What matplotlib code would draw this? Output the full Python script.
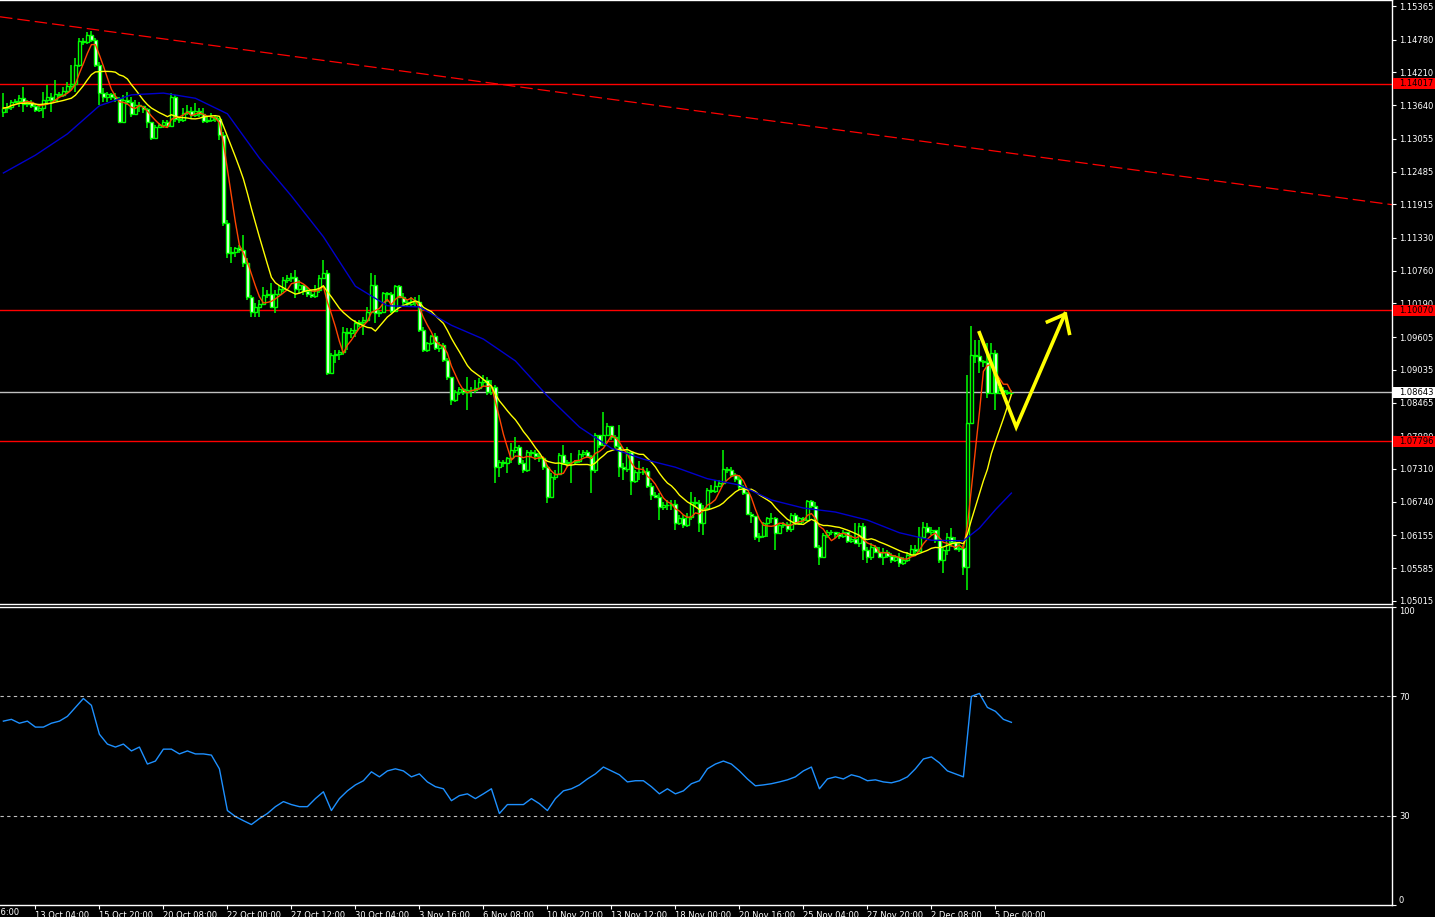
import numpy as np
import pandas as pd
import matplotlib
matplotlib.use("Agg")
import matplotlib.pyplot as plt
import matplotlib.transforms as mtransforms
from matplotlib.patches import Rectangle

# H4 bars, index 0 = leftmost visible bar; open = previous close
open0 = 1.1352
close = [
    1.1359, 1.1361, 1.1370, 1.1371, 1.1376, 1.1366, 1.1370, 1.1363, 1.1356, 1.1359,
    1.1373, 1.1378, 1.1373, 1.1383, 1.1382, 1.1389, 1.1397, 1.1401, 1.1434, 1.1476,
    1.1474, 1.1486, 1.1477, 1.1434, 1.1385, 1.1378, 1.1383, 1.1378, 1.1375, 1.1335,
    1.1373, 1.1370, 1.1349, 1.1364, 1.1363, 1.1357, 1.1335, 1.1307, 1.1326, 1.1330,
    1.1335, 1.1328, 1.1378, 1.1340, 1.1338, 1.1350, 1.1354, 1.1347, 1.1354, 1.1349,
    1.1336, 1.1338, 1.1343, 1.1340, 1.1312, 1.1159, 1.1107, 1.1109, 1.1115, 1.1112,
    1.1089, 1.1030, 1.1004, 1.1013, 1.1018, 1.1034, 1.1035, 1.1013, 1.1035, 1.1044,
    1.1060, 1.1063, 1.1065, 1.1044, 1.1051, 1.1041, 1.1035, 1.1032, 1.1042, 1.1063,
    1.1072, 1.0898, 1.0929, 1.0931, 1.0935, 1.0969, 1.0968, 1.0973, 1.0985, 1.0987,
    1.0990, 1.1004, 1.1051, 1.1002, 1.1004, 1.1037, 1.1035, 1.1006, 1.1049, 1.1030,
    1.1022, 1.1018, 1.1023, 1.1022, 1.0973, 1.0938, 1.0950, 1.0962, 1.0941, 1.0947,
    1.0921, 1.0891, 1.0851, 1.0865, 1.0870, 1.0865, 1.0868, 1.0868, 1.0872, 1.0882,
    1.0886, 1.0865, 1.0874, 1.0734, 1.0743, 1.0741, 1.0750, 1.0764, 1.0769, 1.0741,
    1.0729, 1.0761, 1.0759, 1.0754, 1.0750, 1.0734, 1.0682, 1.0717, 1.0722, 1.0755,
    1.0741, 1.0743, 1.0743, 1.0745, 1.0757, 1.0761, 1.0754, 1.0729, 1.0790, 1.0773,
    1.0790, 1.0806, 1.0787, 1.0771, 1.0734, 1.0731, 1.0761, 1.0710, 1.0726, 1.0726,
    1.0727, 1.0701, 1.0686, 1.0682, 1.0665, 1.0668, 1.0668, 1.0670, 1.0637, 1.0646,
    1.0634, 1.0647, 1.0674, 1.0672, 1.0637, 1.0663, 1.0694, 1.0693, 1.0701, 1.0707,
    1.0731, 1.0729, 1.0721, 1.0714, 1.0700, 1.0689, 1.0653, 1.0649, 1.0613, 1.0614,
    1.0637, 1.0646, 1.0646, 1.0620, 1.0634, 1.0635, 1.0627, 1.0651, 1.0637, 1.0646,
    1.0642, 1.0675, 1.0667, 1.0595, 1.0578, 1.0616, 1.0621, 1.0621, 1.0618, 1.0614,
    1.0621, 1.0606, 1.0609, 1.0602, 1.0632, 1.0590, 1.0578, 1.0595, 1.0587, 1.0578,
    1.0587, 1.0580, 1.0573, 1.0578, 1.0567, 1.0573, 1.0581, 1.0592, 1.0588, 1.0613,
    1.0630, 1.0621, 1.0625, 1.0607, 1.0573, 1.0590, 1.0613, 1.0604, 1.0592, 1.0593,
    1.0560, 1.0811, 1.0929, 1.0928, 1.0919, 1.0917, 1.0863, 1.0933, 1.0863, 1.0868,
    1.0865, 1.0863, 1.0864]
high = [
    1.1385, 1.1368, 1.1373, 1.1375, 1.1382, 1.1396, 1.1373, 1.1373, 1.1364, 1.1364,
    1.1387, 1.1399, 1.1385, 1.1408, 1.1387, 1.1396, 1.1404, 1.1434, 1.1446, 1.1481,
    1.1481, 1.1491, 1.1493, 1.1481, 1.1439, 1.1394, 1.1387, 1.1385, 1.1385, 1.1378,
    1.1382, 1.1387, 1.1378, 1.1373, 1.1370, 1.1361, 1.1359, 1.1335, 1.1330, 1.1333,
    1.1338, 1.1338, 1.1385, 1.1382, 1.1343, 1.1359, 1.1364, 1.1361, 1.1368, 1.1359,
    1.1359, 1.1343, 1.1350, 1.1347, 1.1342, 1.1317, 1.1164, 1.1117, 1.1117, 1.1121,
    1.1138, 1.1098, 1.1034, 1.1020, 1.1025, 1.1048, 1.1042, 1.1055, 1.1042, 1.1051,
    1.1065, 1.1068, 1.1072, 1.1077, 1.1060, 1.1051, 1.1048, 1.1042, 1.1051, 1.1068,
    1.1095, 1.1077, 1.0933, 1.0938, 1.0938, 1.0978, 1.0976, 1.0976, 1.0990, 1.0990,
    1.0995, 1.1013, 1.1072, 1.1068, 1.1008, 1.1039, 1.1039, 1.1039, 1.1051, 1.1051,
    1.1037, 1.1025, 1.1030, 1.1030, 1.1034, 1.0978, 1.0952, 1.0964, 1.0968, 1.0952,
    1.0950, 1.0924, 1.0891, 1.0868, 1.0874, 1.0872, 1.0891, 1.0874, 1.0886, 1.0889,
    1.0895, 1.0891, 1.0886, 1.0877, 1.0747, 1.0747, 1.0752, 1.0776, 1.0787, 1.0773,
    1.0747, 1.0764, 1.0764, 1.0764, 1.0759, 1.0750, 1.0738, 1.0724, 1.0729, 1.0759,
    1.0773, 1.0747, 1.0759, 1.0747, 1.0764, 1.0764, 1.0764, 1.0755, 1.0794, 1.0790,
    1.0830, 1.0811, 1.0799, 1.0790, 1.0808, 1.0741, 1.0769, 1.0743, 1.0729, 1.0745,
    1.0734, 1.0733, 1.0707, 1.0691, 1.0689, 1.0674, 1.0677, 1.0677, 1.0677, 1.0651,
    1.0651, 1.0654, 1.0691, 1.0682, 1.0677, 1.0668, 1.0698, 1.0703, 1.0712, 1.0712,
    1.0764, 1.0734, 1.0734, 1.0724, 1.0721, 1.0703, 1.0691, 1.0656, 1.0646, 1.0620,
    1.0639, 1.0647, 1.0654, 1.0647, 1.0637, 1.0639, 1.0639, 1.0654, 1.0654, 1.0647,
    1.0647, 1.0677, 1.0677, 1.0674, 1.0599, 1.0620, 1.0625, 1.0625, 1.0621, 1.0621,
    1.0625, 1.0621, 1.0616, 1.0637, 1.0637, 1.0637, 1.0595, 1.0602, 1.0599, 1.0595,
    1.0594, 1.0590, 1.0585, 1.0581, 1.0585, 1.0578, 1.0587, 1.0599, 1.0599, 1.0630,
    1.0639, 1.0637, 1.0630, 1.0625, 1.0630, 1.0594, 1.0620, 1.0628, 1.0613, 1.0602,
    1.0599, 1.0895, 1.0980, 1.0955, 1.0955, 1.0921, 1.0950, 1.0950, 1.0938, 1.0874,
    1.0874, 1.0868, 1.0868]
low = [
    1.1343, 1.1350, 1.1356, 1.1368, 1.1361, 1.1352, 1.1361, 1.1359, 1.1352, 1.1352,
    1.1342, 1.1364, 1.1352, 1.1376, 1.1376, 1.1378, 1.1385, 1.1390, 1.1387, 1.1430,
    1.1469, 1.1470, 1.1474, 1.1430, 1.1364, 1.1370, 1.1370, 1.1373, 1.1370, 1.1333,
    1.1333, 1.1364, 1.1343, 1.1347, 1.1352, 1.1350, 1.1324, 1.1303, 1.1307, 1.1326,
    1.1324, 1.1324, 1.1330, 1.1335, 1.1333, 1.1335, 1.1347, 1.1342, 1.1343, 1.1343,
    1.1333, 1.1333, 1.1335, 1.1335, 1.1303, 1.1154, 1.1098, 1.1089, 1.1100, 1.1107,
    1.1082, 1.1025, 1.0995, 1.0995, 1.0995, 1.1020, 1.1028, 1.1013, 1.1002, 1.1034,
    1.1039, 1.1055, 1.1056, 1.1028, 1.1037, 1.1034, 1.1030, 1.1028, 1.1028, 1.1037,
    1.1063, 1.0895, 1.0898, 1.0915, 1.0921, 1.0929, 1.0938, 1.0959, 1.0961, 1.0978,
    1.0964, 1.0987, 1.1002, 1.0985, 1.0995, 1.1028, 1.1022, 1.1002, 1.1030, 1.1028,
    1.1016, 1.1013, 1.1013, 1.1013, 1.0969, 1.0935, 1.0935, 1.0947, 1.0938, 1.0935,
    1.0917, 1.0886, 1.0842, 1.0848, 1.0860, 1.0860, 1.0834, 1.0856, 1.0863, 1.0868,
    1.0874, 1.0860, 1.0860, 1.0707, 1.0717, 1.0734, 1.0724, 1.0741, 1.0759, 1.0738,
    1.0724, 1.0726, 1.0752, 1.0747, 1.0743, 1.0729, 1.0672, 1.0682, 1.0712, 1.0721,
    1.0738, 1.0734, 1.0707, 1.0738, 1.0741, 1.0752, 1.0750, 1.0689, 1.0724, 1.0767,
    1.0781, 1.0790, 1.0781, 1.0767, 1.0717, 1.0712, 1.0726, 1.0686, 1.0707, 1.0712,
    1.0721, 1.0698, 1.0677, 1.0680, 1.0642, 1.0660, 1.0660, 1.0660, 1.0625, 1.0634,
    1.0628, 1.0630, 1.0642, 1.0665, 1.0621, 1.0616, 1.0660, 1.0689, 1.0689, 1.0700,
    1.0703, 1.0724, 1.0717, 1.0708, 1.0694, 1.0686, 1.0651, 1.0637, 1.0607, 1.0604,
    1.0611, 1.0613, 1.0637, 1.0590, 1.0620, 1.0628, 1.0621, 1.0621, 1.0634, 1.0634,
    1.0637, 1.0646, 1.0663, 1.0593, 1.0564, 1.0576, 1.0611, 1.0616, 1.0611, 1.0609,
    1.0611, 1.0602, 1.0602, 1.0602, 1.0595, 1.0573, 1.0567, 1.0573, 1.0585, 1.0576,
    1.0564, 1.0576, 1.0567, 1.0569, 1.0560, 1.0564, 1.0569, 1.0578, 1.0581, 1.0590,
    1.0616, 1.0620, 1.0616, 1.0602, 1.0567, 1.0550, 1.0581, 1.0595, 1.0590, 1.0587,
    1.0547, 1.0520, 1.0813, 1.0915, 1.0898, 1.0908, 1.0854, 1.0863, 1.0834, 1.0863,
    1.0860, 1.0860, 1.0860]

# slow moving average, read every 8 bars
slow_ma_bars = list(range(0, 241, 8)) + [244, 248, 252]
slow_ma = [1.1246, 1.1277, 1.1314, 1.1363, 1.1382, 1.1385, 1.1376, 1.1349, 1.1272, 1.1206,
           1.1135, 1.1049, 1.1015, 1.1013, 1.0981, 1.0957, 1.0919, 1.0858, 1.0804, 1.0767,
           1.0748, 1.0734, 1.0714, 1.0703, 1.0677, 1.0663, 1.0656, 1.0642, 1.0620, 1.0607,
           1.0606, 1.0628, 1.0660, 1.0689]

# RSI, read every 2 bars
rsi_vals = [61.7, 62.3, 61.0, 61.7, 59.7, 59.7, 61.0, 61.7, 63.3, 66.3,
            69.3, 67.0, 57.3, 54.0, 53.0, 54.0, 51.7, 53.0, 47.3, 48.3,
            52.3, 52.3, 50.7, 51.7, 50.7, 50.7, 50.3, 45.7, 31.7, 29.7,
            28.3, 27.0, 29.0, 30.7, 33.0, 34.7, 33.7, 33.0, 33.0, 35.7,
            38.0, 31.7, 35.7, 38.3, 40.3, 41.7, 44.7, 43.0, 45.0, 45.7,
            45.0, 43.0, 44.0, 41.3, 39.7, 39.0, 35.0, 36.7, 37.3, 35.7,
            37.3, 39.0, 30.7, 33.7, 33.7, 33.7, 35.7, 34.0, 31.7, 35.7,
            38.3, 39.0, 40.3, 42.3, 44.0, 46.3, 45.0, 43.7, 41.3, 41.7,
            41.7, 39.7, 37.3, 39.0, 37.3, 38.3, 40.7, 41.7, 45.7, 47.3,
            48.3, 47.3, 45.0, 42.3, 40.0, 40.3, 40.7, 41.3, 42.0, 43.0,
            45.0, 46.3, 39.0, 42.3, 43.0, 42.3, 43.7, 43.0, 41.7, 42.0,
            41.3, 41.0, 41.7, 43.0, 45.7, 49.0, 49.7, 47.7, 45.0, 44.0,
            43.0, 70.0, 71.0, 66.3, 65.0, 62.3, 61.3]
rsi_bars = np.arange(len(rsi_vals)) * 2

price_ticks = [1.15365, 1.14780, 1.14210, 1.13640, 1.13055, 1.12485, 1.11915, 1.11330,
               1.10760, 1.10190, 1.09605, 1.09035, 1.08465, 1.07880, 1.07310, 1.06740,
               1.06155, 1.05585, 1.05015]
red_levels = [1.14017, 1.10070, 1.07796]
bid = 1.08643
trend_bars = [0, 347]
trend_price = [1.1517, 1.1191]
arrow_bars = [244.0, 253.2, 265.4]
arrow_price = [1.0968, 1.0804, 1.1001]
head_left = ([261.0, 265.3], [1.0987, 1.1000])
head_right = ([265.5, 266.5], [1.1000, 1.0967])

date_bars = list(range(8, 249, 16))
date_labels = ["13 Oct 04:00", "15 Oct 20:00", "20 Oct 08:00", "22 Oct 00:00", "27 Oct 12:00",
               "30 Oct 04:00", "3 Nov 16:00", "6 Nov 08:00", "10 Nov 20:00", "13 Nov 12:00",
               "18 Nov 00:00", "20 Nov 16:00", "25 Nov 04:00", "27 Nov 20:00", "2 Dec 08:00",
               "5 Dec 00:00"]

LIME = "#00FF00"
W, H = 1435, 917
fig = plt.figure(figsize=(W / 100, H / 100), dpi=100, facecolor="black")
ax = fig.add_axes([0, 1 - 604 / H, 1392 / W, 604 / H], facecolor="black")
rx = fig.add_axes([0, 1 - 905 / H, 1392 / W, 298 / H], facecolor="black")

xlim = (-0.85, 347.15)

# candles
c = np.array(close)
o = np.r_[open0, c[:-1]]
hi = np.maximum(np.array(high), np.maximum(o, c))
lo = np.minimum(np.array(low), np.minimum(o, c))
bars = np.arange(len(c))
ax.vlines(bars, lo, hi, color=LIME, lw=1.1, zorder=2)
ax.bar(bars, c - o, bottom=o, width=0.72, color=np.where(c >= o, "black", "white"),
       edgecolor=LIME, linewidth=1.0, zorder=3)

# moving averages
s = pd.Series(c)
ax.plot(bars, s.rolling(5, min_periods=1).mean(), color="#FF4500", lw=1, zorder=4)
ax.plot(bars, s.rolling(13, min_periods=1).mean(), color="#FFFF00", lw=1, zorder=4)
ax.plot(slow_ma_bars, slow_ma, color="#0000CD", lw=1, zorder=4)

# levels and drawings
for lvl in red_levels:
    ax.axhline(lvl, color="red", lw=1, zorder=1)
ax.axhline(bid, color="#C0C0C0", lw=1, zorder=1)
ax.axline((trend_bars[0], trend_price[0]), (trend_bars[1], trend_price[1]),
          color="red", lw=0.9, ls=(0, (10, 4)), zorder=1)
ax.plot(arrow_bars, arrow_price, color="#FFFF00", lw=2.6, solid_joinstyle="miter", zorder=6)
ax.plot(*head_left, color="#FFFF00", lw=2.6, zorder=6)
ax.plot(*head_right, color="#FFFF00", lw=2.6, zorder=6)

ax.set_xlim(*xlim)
ax.set_ylim(1.04960, 1.15470)
ax.set_xticks([])
ax.yaxis.tick_right()
ax.set_yticks(price_ticks)
ax.set_yticklabels([f"{v:.5f}" for v in price_ticks])
ax.tick_params(axis="y", colors="white", labelsize=6, length=3, width=0.8, pad=2)

trans = mtransforms.blended_transform_factory(ax.transAxes, ax.transData)
hh = 5.5 * (1.15470 - 1.04960) / 604
for v, fc in [(1.14017, "red"), (1.10070, "red"), (1.07796, "red"), (bid, "white")]:
    ax.add_patch(Rectangle((1.0008, v - hh), (W - 1392) / 1392, 2 * hh, transform=trans,
                           facecolor=fc, edgecolor="none", clip_on=False, zorder=7))
    ax.text(1 + 7 / 1392, v, f"{v:.5f}", transform=trans, color="black", fontsize=6,
            va="center", ha="left", clip_on=False, zorder=8)

for a in (ax, rx):
    a.spines["left"].set_visible(False)
    for side in ("top", "right", "bottom"):
        a.spines[side].set_color("white")
        a.spines[side].set_linewidth(1)

# RSI panel
rx.plot(rsi_bars, rsi_vals, color="#1E90FF", lw=1)
for lv in (70, 30):
    rx.axhline(lv, color="#C0C0C0", lw=0.8, ls=(0, (3, 3)))
rx.set_xlim(*xlim)
rx.set_ylim(0, 100)
rx.yaxis.tick_right()
rx.set_yticks([100, 70, 30, 0])
rx.set_yticklabels(["100", "70", "30", "0"])
rx.tick_params(axis="y", colors="white", labelsize=6, length=3, width=0.8, pad=2)
ylabels = rx.get_yticklabels()
ylabels[0].set_va("top")
ylabels[-1].set_va("bottom")

rx.set_xticks(date_bars)
rx.set_xticklabels(date_labels, ha="left")
rx.tick_params(axis="x", colors="white", labelsize=6, length=3, width=0.8, pad=1)
rx.text(3.9, -0.01, "10 Oct 16:00", transform=mtransforms.blended_transform_factory(rx.transData, rx.transAxes),
        color="white", fontsize=6, ha="right", va="top", clip_on=False)

fig.savefig("out.png", dpi=100, facecolor="black")
